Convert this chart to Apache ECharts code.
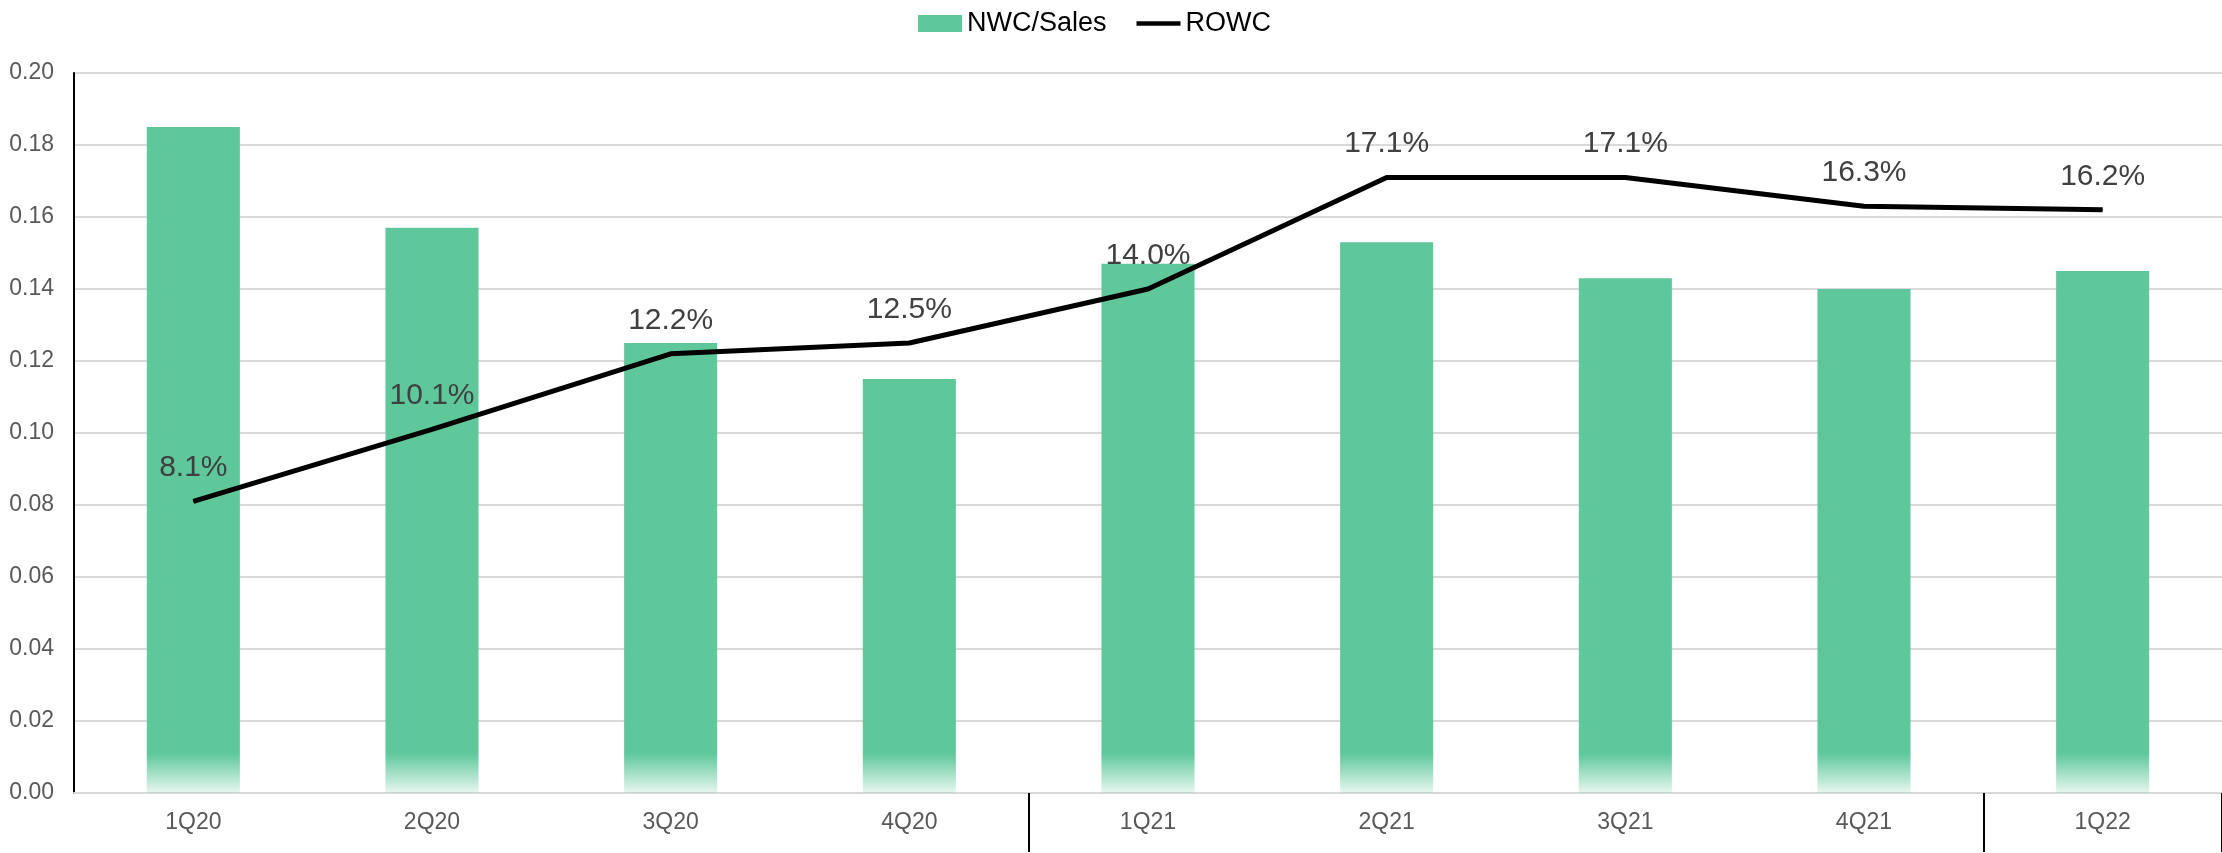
<!DOCTYPE html>
<html>
<head>
<meta charset="utf-8">
<script src="https://cdn.jsdelivr.net/npm/echarts@6/dist/echarts.min.js"></script>
<style>
  html, body { margin: 0; padding: 0; background: #fff; }
  #chart { width: 2222px; height: 853px; }
</style>
</head>
<body>
<div id="chart"></div>
<script>
// data
const quarters = ['1Q20', '2Q20', '3Q20', '4Q20', '1Q21', '2Q21', '3Q21', '4Q21', '1Q22']
const nwcSales = [0.185, 0.157, 0.125, 0.115, 0.147, 0.153, 0.143, 0.140, 0.145]
const rowc = [0.081, 0.101, 0.122, 0.125, 0.140, 0.171, 0.171, 0.163, 0.162]
const yTicks = { min: 0, max: 0.2, step: 0.02 }

const green = '#5ec89b'
const font = 'Liberation Sans, Arial, sans-serif'

const chart = echarts.init(document.getElementById('chart'))

// bars fade out near the bottom (last ~0.01 of height)
const barData = nwcSales.map(v => {
  const fade = Math.max(0, 1 - 0.011 / v)
  return {
    value: v,
    itemStyle: {
      color: new echarts.graphic.LinearGradient(0, 0, 0, 1, [
        { offset: 0, color: green },
        { offset: fade, color: green },
        { offset: 1, color: 'rgba(94,200,155,0.15)' }
      ])
    }
  }
})

const option = {
  animation: false,
  textStyle: { fontFamily: font },
  legend: {
    top: 5,
    left: 913,
    itemGap: 30,
    itemWidth: 44,
    itemHeight: 17,
    textStyle: { fontSize: 27, color: '#000', fontFamily: font },
    data: [
      { name: 'NWC/Sales', icon: 'rect' },
      { name: 'ROWC', icon: 'path://M0,0L48,0L48,5L0,5Z' }
    ]
  },
  grid: {
    left: 74,
    right: 0,
    top: 73,
    bottom: 60,
    containLabel: false
  },
  xAxis: {
    type: 'category',
    data: quarters,
    boundaryGap: true,
    axisLine: { lineStyle: { color: '#d9d9d9', width: 2 } },
    axisTick: {
      show: true,
      interval: (index) => index === 4 || index === 8,
      length: 59,
      lineStyle: { color: '#000', width: 2 }
    },
    axisLabel: {
      fontSize: 23,
      color: '#595959',
      margin: 18,
      fontFamily: font
    }
  },
  yAxis: {
    type: 'value',
    min: yTicks.min,
    max: yTicks.max,
    interval: yTicks.step,
    axisLine: { show: true, lineStyle: { color: '#000', width: 2 } },
    axisTick: { show: false },
    splitLine: { lineStyle: { color: '#d9d9d9', width: 2 } },
    axisLabel: {
      fontSize: 23,
      color: '#595959',
      margin: 20,
      fontFamily: font,
      formatter: v => v.toFixed(2)
    }
  },
  series: [
    {
      name: 'NWC/Sales',
      type: 'bar',
      barWidth: '39%',
      itemStyle: { color: green },
      data: barData
    },
    {
      name: 'ROWC',
      type: 'line',
      symbol: 'circle',
      symbolSize: 1,
      showSymbol: true,
      lineStyle: { color: '#000', width: 5 },
      itemStyle: { color: '#000' },
      label: {
        show: true,
        position: 'top',
        distance: 18,
        fontSize: 30,
        color: '#404040',
        fontFamily: font,
        formatter: p => (p.value * 100).toFixed(1) + '%'
      },
      data: rowc
    }
  ]
}

chart.setOption(option)
</script>
</body>
</html>
